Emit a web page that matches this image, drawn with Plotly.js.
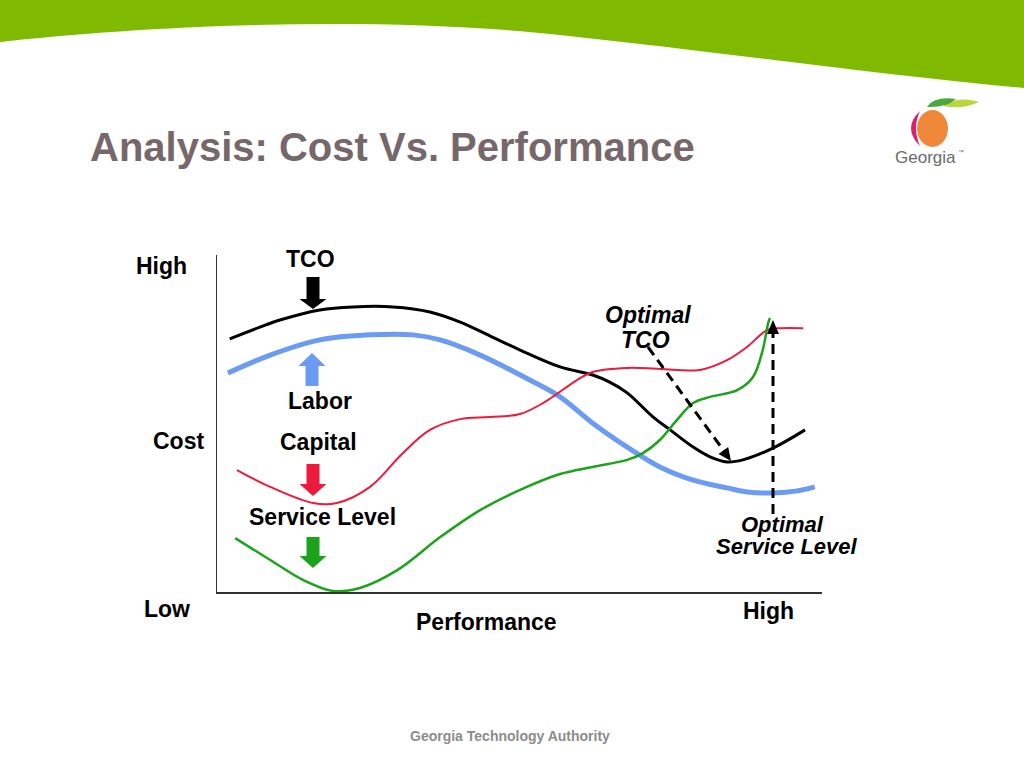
<!DOCTYPE html>
<html><head><meta charset="utf-8">
<script src="https://cdn.plot.ly/plotly-3.0.1.min.js"></script>
<style>html,body{margin:0;padding:0;background:#fff;}#chart{width:1024px;height:768px;}</style>
</head><body><div id="chart"></div>
<script>
// Performance (0-100) vs Cost (0-100)
const tcoX = [2.1, 7.1, 10.4, 17.0, 22.5, 29.1, 35.2, 40.2, 45.1, 50.1, 56.7, 62.1, 64.9, 67.8, 72.1, 74.9, 78.7, 81.5, 84.3, 86.9, 91.9, 97.2];
const tcoY = [75.1, 78.6, 80.7, 83.7, 84.6, 84.6, 83.1, 80.1, 76.0, 71.8, 66.8, 64.4, 62.3, 59.1, 51.9, 48.1, 43.0, 40.1, 38.6, 39.2, 42.7, 48.1];
const laborX = [1.8, 8.8, 17.0, 25.3, 32.4, 36.9, 43.5, 51.7, 56.7, 62.1, 67.8, 73.2, 78.7, 84.3, 87.6, 91.9, 95.9, 98.8];
const laborY = [65.0, 70.3, 74.8, 76.3, 76.3, 74.8, 70.3, 62.9, 57.9, 50.1, 43.0, 37.1, 33.2, 30.9, 29.7, 29.4, 30.0, 31.2];
const capitalX = [3.3, 8.8, 15.9, 19.8, 25.3, 30.7, 35.2, 40.2, 45.1, 50.1, 54.2, 59.5, 62.1, 67.8, 73.2, 79.8, 84.3, 87.6, 90.9, 93.1, 96.9];
const capitalY = [36.2, 31.2, 26.4, 26.4, 31.2, 41.2, 48.1, 51.3, 51.9, 52.8, 56.4, 62.9, 65.3, 66.5, 66.2, 65.9, 68.8, 72.7, 77.7, 78.3, 78.3];
const serviceX = [3.0, 8.8, 14.2, 19.2, 23.6, 29.8, 36.9, 43.5, 50.1, 56.7, 62.1, 67.8, 70.4, 73.2, 76.0, 78.7, 81.5, 86.0, 88.6, 90.2, 91.1, 91.4];
const serviceY = [16.0, 9.5, 3.6, 0.3, 1.2, 6.5, 16.3, 24.3, 30.3, 35.0, 37.1, 39.2, 41.2, 45.1, 51.0, 56.1, 57.9, 59.9, 63.8, 71.8, 79.8, 81.3];
const costLabels = ['High', 'Cost', 'Low'];
const perfLabels = ['Performance', 'High'];
const seriesLabels = ['TCO', 'Labor', 'Capital', 'Service Level'];

const W = 1024, H = 768;
const X = p => p / W, Y = p => 1 - p / H;
function pp(d) { let i = 0; return d.replace(/-?\d+(\.\d+)?/g, m => { const v = parseFloat(m); const r = (i++ % 2 === 0) ? v / W : 1 - v / H; return r.toFixed(5); }); }
function blockArrow(cx, base, headY, tip, sw, hw) {
  return pp(`M ${cx-sw} ${base} L ${cx+sw} ${base} L ${cx+sw} ${headY} L ${cx+hw} ${headY} L ${cx} ${tip} L ${cx-hw} ${headY} L ${cx-sw} ${headY} Z`);
}
function headTri(x0, y0, x1, y1, len, hw) {
  const dx = x1 - x0, dy = y1 - y0, L = Math.hypot(dx, dy), ux = dx / L, uy = dy / L;
  const bx = x1 - ux * len, by = y1 - uy * len, nx = -uy * hw, ny = ux * hw;
  return pp(`M ${x1} ${y1} L ${bx+nx} ${by+ny} L ${bx-nx} ${by-ny} Z`);
}
const F = 'Liberation Sans, Arial, Helvetica, sans-serif';
function lbl(text, cx, cy, size, color, extra) {
  return Object.assign({ xref: 'paper', yref: 'paper', x: X(cx), y: Y(cy), text: text, showarrow: false,
    xanchor: 'center', yanchor: 'middle', font: { family: F, size: size, color: color } }, extra || {});
}

const traces = [
  { x: tcoX, y: tcoY, name: seriesLabels[0], mode: 'lines', line: { color: '#000000', width: 3, shape: 'spline', smoothing: 1 }, cliponaxis: false },
  { x: laborX, y: laborY, name: seriesLabels[1], mode: 'lines', line: { color: '#6b9bf2', width: 5, shape: 'spline', smoothing: 1 }, cliponaxis: false },
  { x: capitalX, y: capitalY, name: seriesLabels[2], mode: 'lines', line: { color: '#ec1a3c', width: 2, shape: 'spline', smoothing: 1 }, cliponaxis: false },
  { x: serviceX, y: serviceY, name: seriesLabels[3], mode: 'lines', line: { color: '#1ca31c', width: 2.5, shape: 'spline', smoothing: 1 }, cliponaxis: false }
];

const shapes = [
  { type: 'path', xref: 'paper', yref: 'paper', layer: 'below', line: { width: 0 }, fillcolor: '#7fba00',
    path: pp('M 0 0 L 1024 0 L 1024 88 C 880 75 720 52 560 35 C 380 15 150 25 0 42 Z') },
  // Georgia logo
  { type: 'path', xref: 'paper', yref: 'paper', line: { width: 0 }, fillcolor: '#d8216e', path: pp('M 920 111 Q 902 128 920 146 Q 912 128 920 111 Z') },
  { type: 'circle', xref: 'paper', yref: 'paper', line: { width: 0 }, fillcolor: '#f0883a', x0: X(917), x1: X(948), y0: Y(110), y1: Y(147) },
  { type: 'path', xref: 'paper', yref: 'paper', line: { width: 0 }, fillcolor: '#b9d63a', path: pp('M 944 104 Q 962 96 979 102 Q 962 110 944 106 Z') },
  { type: 'path', xref: 'paper', yref: 'paper', line: { width: 0 }, fillcolor: '#4aa83c', path: pp('M 927 107 Q 934 96 956 99 Q 946 108 927 107 Z') },
  // block arrows
  { type: 'path', xref: 'paper', yref: 'paper', line: { width: 0 }, fillcolor: '#000000', path: blockArrow(313, 277, 299, 309, 6.5, 13.5) },
  { type: 'path', xref: 'paper', yref: 'paper', line: { width: 0 }, fillcolor: '#6b9bf2', path: blockArrow(312, 386, 366, 353, 6.5, 13.5) },
  { type: 'path', xref: 'paper', yref: 'paper', line: { width: 0 }, fillcolor: '#ec1a3c', path: blockArrow(313, 464, 484, 496, 6.5, 13.5) },
  { type: 'path', xref: 'paper', yref: 'paper', line: { width: 0 }, fillcolor: '#1ca31c', path: blockArrow(313, 537, 556, 568, 6.5, 13.5) },
  // dashed pointers
  { type: 'line', xref: 'paper', yref: 'paper', layer: 'above', x0: X(648), y0: Y(347), x1: X(724), y1: Y(451), line: { color: '#000', width: 3, dash: '10px,6px' } },
  { type: 'path', xref: 'paper', yref: 'paper', line: { width: 0 }, fillcolor: '#000', path: headTri(648, 347, 731, 461, 13, 6) },
  { type: 'line', xref: 'paper', yref: 'paper', layer: 'above', x0: X(773), y0: Y(514), x1: X(773), y1: Y(334), line: { color: '#000', width: 3, dash: '10px,6px' } },
  { type: 'path', xref: 'paper', yref: 'paper', line: { width: 0 }, fillcolor: '#000', path: headTri(773, 518, 773, 320, 14, 6) }
];

const annotations = [
  { xref: 'paper', yref: 'paper', x: X(88), y: Y(147), xanchor: 'left', yanchor: 'middle', showarrow: false,
    text: '<b>Analysis: Cost Vs. Performance</b>', font: { family: F, size: 40, color: '#76686a' } },
  lbl('Georgia', 925, 157, 17, '#6a6a6a'),
  lbl('™', 961, 152, 6, '#6a6a6a'),
  lbl('<b>' + costLabels[0] + '</b>', 161, 266, 23, '#000'),
  lbl('<b>' + costLabels[1] + '</b>', 178, 441, 23, '#000'),
  lbl('<b>' + costLabels[2] + '</b>', 167, 609, 23, '#000'),
  lbl('<b>' + perfLabels[0] + '</b>', 486, 622, 23, '#000'),
  lbl('<b>' + perfLabels[1] + '</b>', 768, 611, 23, '#000'),
  lbl('<b>' + seriesLabels[0] + '</b>', 310, 259, 23, '#000'),
  lbl('<b>' + seriesLabels[1] + '</b>', 320, 401, 23, '#000'),
  lbl('<b>' + seriesLabels[2] + '</b>', 318, 442, 23, '#000'),
  lbl('<b>' + seriesLabels[3] + '</b>', 322, 517, 23, '#000'),
  lbl('<b><i>Optimal</i></b>', 648, 315, 23, '#000'),
  lbl('<b><i>TCO</i></b>', 645, 340, 23, '#000'),
  lbl('<b><i>Optimal</i></b>', 782, 524, 22, '#000'),
  lbl('<b><i>Service Level</i></b>', 787, 546, 22, '#000'),
  lbl('<b>Georgia Technology Authority</b>', 510, 736, 14, '#8c8c8c')
];

const layout = {
  width: W, height: H, margin: { l: 0, r: 0, t: 0, b: 0 },
  paper_bgcolor: '#ffffff', plot_bgcolor: 'rgba(0,0,0,0)', showlegend: false,
  xaxis: { domain: [217 / W, 822 / W], range: [0, 100], showline: true, linecolor: '#333', linewidth: 1.5,
    showgrid: false, zeroline: false, showticklabels: false, ticks: '', fixedrange: true },
  yaxis: { domain: [176 / H, 513 / H], range: [0, 100], showline: true, linecolor: '#333', linewidth: 1.5,
    showgrid: false, zeroline: false, showticklabels: false, ticks: '', fixedrange: true },
  shapes: shapes, annotations: annotations
};
Plotly.newPlot('chart', traces, layout, { staticPlot: true, displayModeBar: false });
</script></body></html>
